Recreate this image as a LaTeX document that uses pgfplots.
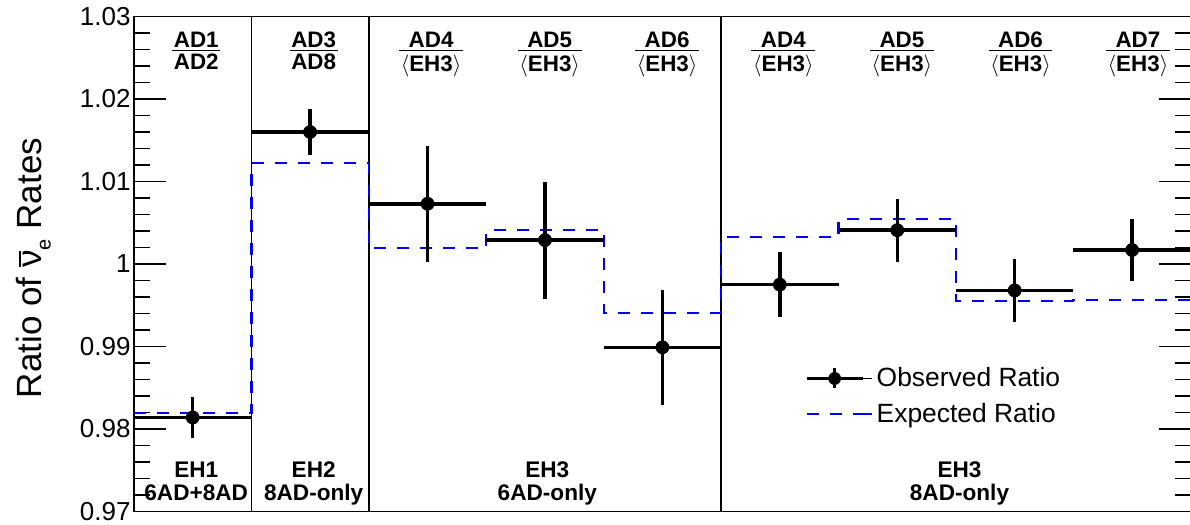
\documentclass[border=0pt]{standalone}
\usepackage{pgfplots}
\pgfplotsset{compat=1.18}
\usepackage{fontspec}
\setmainfont{Liberation Sans}
\newcommand\rfrac[3]{{\renewcommand\arraystretch{0}\begin{tabular}[t]{@{\hspace{0.8pt}}c@{\hspace{0.8pt}}}\rule[-1.25pt]{0pt}{1pt}#1\\\hline\rule{0pt}{#3}#2\end{tabular}}}
\newcommand\nubar{\mbox{\ooalign{ν\cr\hidewidth\raisebox{0.6em}{\rule{0.45em}{0.07em}}\hidewidth\cr}}}
\begin{document}
\begin{tikzpicture}
\begin{axis}[
  scale only axis, width=528.4pt, height=247.5pt,
  xmin=0, xmax=9, ymin=0.97, ymax=1.03,
  xtick=\empty,
  ytick={0.97,0.98,0.99,1,1.01,1.02,1.03},
  yticklabels={0.97,0.98,0.99,1,1.01,1.02,1.03},
  minor y tick num=4,
  major tick length=16pt, minor tick length=8pt,
  tick style={black, line width=0.75pt},
  axis line style={line width=0.75pt},
  /pgf/number format/assume math mode=true,
  yticklabel style={font=\fontsize{13}{15}\selectfont, inner sep=1.5pt},
  ylabel={Ratio of \nubar\raisebox{-0.25em}{\fontsize{10}{10}\selectfont e} Rates},
  ylabel style={font=\fontsize{17.5}{20}\selectfont, at={(axis description cs:-0.0871,0.492)}, anchor=base},
  clip=false,
  reverse legend,
  legend cell align=left,
  legend style={draw=none, fill=none, at={(axis cs:5.71,0.988)}, anchor=north west,
    font=\fontsize{13.2}{15}\selectfont, row sep=2.75pt, inner sep=0pt, nodes={inner sep=2pt}},
]
\coordinate (bl) at (rel axis cs:0,0);
\coordinate (tr) at (rel axis cs:1,1);
\addplot[black, line width=0.75pt, forget plot] coordinates {(1,0.97) (1,1.03)};
\addplot[black, line width=0.75pt, forget plot] coordinates {(2,0.97) (2,1.03)};
\addplot[black, line width=0.75pt, forget plot] coordinates {(5,0.97) (5,1.03)};
\addplot[blue, dash pattern=on 6pt off 5.5pt, line width=1.1pt, const plot mark left,
  legend image code/.code={\draw[blue, dash pattern=on 6pt off 5.5pt, line width=1.1pt] (0pt,0pt)--(28pt,0pt); \path (28pt,0pt)--(32.5pt,0pt);}]
  coordinates {(0,0.9819)(1,1.0122)(2,1.0019)(3,1.0041)(4,0.9941)(5,1.0033)(6,1.00545)(7,0.99555)(8,0.99567)(9,0.99567)};
\addlegendentry{Expected Ratio}
\addplot[black, only marks, mark=*, mark size=3.25pt,
  legend image code/.code={\draw[black,line width=1.75pt] (0pt,0pt)--(28pt,0pt); \draw[black,line width=1.75pt] (14pt,-5pt)--(14pt,5pt); \fill[black] (14pt,0pt) circle (3pt); \path (28pt,0pt)--(32.5pt,0pt);},
  error bars/.cd, x dir=both, x explicit, y dir=both, y explicit, error mark=none,
  error bar style={line width=1.75pt, black}]
  coordinates {
  (0.5,0.9814) +- (0.5,0.0025)
  (1.5,1.0160) +- (0.5,0.0028)
  (2.5,1.0073) +- (0.5,0.0070)
  (3.5,1.0029) +- (0.5,0.0071)
  (4.5,0.9899) +- (0.5,0.0070)
  (5.5,0.9975) +- (0.5,0.0039)
  (6.5,1.0041) +- (0.5,0.0038)
  (7.5,0.9968) +- (0.5,0.0038)
  (8.5,1.0017) +- (0.5,0.0038)
  };
\addlegendentry{Observed Ratio}
\begin{scope}[every node/.style={anchor=base, font=\fontsize{11.2}{13}\selectfont\bfseries, yshift=1.6pt}]
\node at (axis cs:0.53,1.0258) {\rfrac{AD1}{AD2}{9pt}};
\node at (axis cs:1.53,1.0258) {\rfrac{AD3}{AD8}{9pt}};
\node at (axis cs:2.53,1.0258) {\rfrac{AD4}{$\langle$EH3$\rangle$}{10.3pt}};
\node at (axis cs:3.54,1.0258) {\rfrac{AD5}{$\langle$EH3$\rangle$}{10.3pt}};
\node at (axis cs:4.54,1.0258) {\rfrac{AD6}{$\langle$EH3$\rangle$}{10.3pt}};
\node at (axis cs:5.53,1.0258) {\rfrac{AD4}{$\langle$EH3$\rangle$}{10.3pt}};
\node at (axis cs:6.54,1.0258) {\rfrac{AD5}{$\langle$EH3$\rangle$}{10.3pt}};
\node at (axis cs:7.55,1.0258) {\rfrac{AD6}{$\langle$EH3$\rangle$}{10.3pt}};
\node at (axis cs:8.55,1.0258) {\rfrac{AD7}{$\langle$EH3$\rangle$}{10.3pt}};
\end{scope}
\begin{scope}[every node/.style={anchor=base, font=\fontsize{11.3}{13}\selectfont\bfseries}]
\node at (axis cs:0.53,0.97412) {EH1};
\node at (axis cs:0.53,0.97133) {6AD+8AD};
\node at (axis cs:1.53,0.97412) {EH2};
\node at (axis cs:1.53,0.97133) {8AD-only};
\node at (axis cs:3.52,0.97412) {EH3};
\node at (axis cs:3.52,0.97133) {6AD-only};
\node at (axis cs:7.03,0.97412) {EH3};
\node at (axis cs:7.03,0.97133) {8AD-only};
\end{scope}
\end{axis}
\pgfresetboundingbox
\path[use as bounding box] ([xshift=-67pt,yshift=-6.25pt]bl) rectangle ([xshift=-0.4pt,yshift=8.25pt]tr);
\end{tikzpicture}
\end{document}
